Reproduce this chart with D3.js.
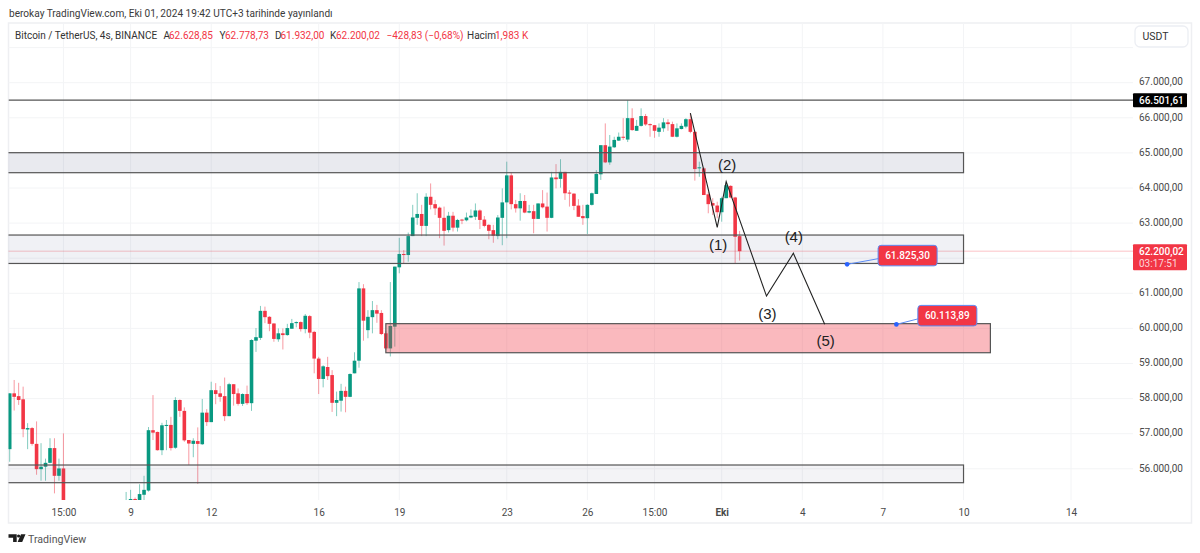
<!DOCTYPE html>
<html>
<head>
<meta charset="utf-8">
<script src="https://cdn.jsdelivr.net/npm/d3@7/dist/d3.min.js"></script>
<style>
  html, body { margin: 0; padding: 0; background: #fff; overflow: hidden; }
  svg { display: block; font-family: Roboto, sans-serif; }
</style>
</head>
<body>
<svg id="chart" width="1200" height="553"></svg>
<script>
// bars that run below the visible pane (13-25) could not be read, they stay null
const opens = [56560,58150,58070,57980,57120,57160,56710,55990,56060,56170,56590,55800,56010,null,null,null,null,null,null,null,null,null,null,null,null,null,
  54800,54900,55140,54950,55260,55380,57100,57050,56530,57220,57250,56600,57960,57650,56820,56710,56790,56700,57600,57330,58240,58150,58070,57500,58410,58150,57850,58130,57870,59650,59730,60500,60330,60140,59690,59860,59810,59990,60150,60180,59980,60350,59900,59140,58560,58900,58670,57880,57940,58220,58050,58720,59080,61140,59950,60320,60520,60440,59860,59430,60050,61740,62120,62090,62630,63150,63260,62920,
  63750,63540,63440,63150,62800,63210,62870,63100,63080,63160,63180,63360,63100,62950,62800,62630,63150,63590,64360,63540,63420,63630,63300,63340,63120,63560,63470,63150,64300,64260,64460,63870,63840,63500,63200,63140,63520,63830,64390,65220,64730,65160,65350,65460,65380,65990,65630,65770,66050,65820,65790,65600,65700,65870,65820,65460,65680,65750,65960,65600,64560,64560,63820,63570,63500,63310,63710,64060,63730,62628.85];
const highs = [58150,58530,58450,58340,57300,57190,57350,56730,56290,56870,56870,56290,57010,null,null,null,null,null,null,null,null,null,null,null,null,null,
  55340,55400,55180,55560,55800,57190,58100,57060,57310,57390,57480,58040,57980,57750,56820,56870,57180,57990,57700,58480,58440,58360,58600,58450,58410,58290,58150,58370,59690,60010,60640,60620,60350,60150,60000,60000,60130,60270,60200,60200,60410,60380,59930,59190,58950,59190,58810,58200,58420,58340,58720,59320,61320,61260,60520,60780,60670,60520,59930,61320,61760,62580,62230,62730,63520,63850,63520,63850,
  64130,63660,63470,63470,63320,63320,63120,63120,63300,63390,63560,63390,63200,62970,62950,63230,63990,64750,64440,63660,63850,63800,63520,63520,63560,63940,63870,64460,64680,64820,64460,63940,63850,63680,63520,63540,63870,64510,65220,65840,65510,65460,65580,65990,66500,66270,65940,66270,66110,65840,65790,65840,65990,65960,65890,65840,65840,65990,66130,65630,64750,64590,63890,63710,63610,63750,64180,64080,63750,62778.73];
const lows = [56200,57660,57820,56900,56560,56660,55830,55660,55660,56160,55300,55660,54500,null,null,null,null,null,null,null,null,null,null,null,null,null,
  54700,54800,54900,54900,54990,55350,56820,56520,56390,56530,56520,56570,57480,56770,56110,56330,55570,56680,57220,57330,57840,57910,57360,57500,57800,57800,57790,57820,57650,59330,59670,60150,59920,59620,59620,59400,59790,59990,60030,59910,59860,59720,58720,58130,58320,58530,57620,57500,57630,57610,58040,58720,58880,59650,59720,59860,60160,59810,59390,59200,59480,61570,61840,61900,62630,62950,62630,62630,
  63390,63230,62570,62360,62730,62760,62760,62970,63050,63140,63090,62830,62880,62540,62440,62540,62370,62570,63390,63300,63070,63280,63280,62710,63120,63420,62760,63140,63990,64010,63660,63470,63370,63180,62950,62690,63500,63830,64230,64710,64660,65140,65340,65370,65310,65630,65630,65750,65770,65460,65430,65460,65600,65630,65450,65440,65670,65700,65560,64210,64320,63800,63280,63230,63140,63040,63710,63710,61850,61932];
const closes = [58150,58050,57960,57130,57160,56710,55990,56060,56170,56590,55800,56010,54800,null,null,null,null,null,null,null,null,null,null,null,null,null,
  55000,55140,54950,55280,55400,57100,57030,56530,57240,57250,56590,57960,57650,56810,56720,56800,56710,57600,57330,58240,58130,58050,57500,58410,58130,57850,58130,57870,59670,59750,60500,60320,60130,59700,59860,59810,60010,60150,60180,59980,60360,59880,59140,58560,58920,58640,57880,57960,58220,58050,58700,59080,61140,60220,60330,60520,60420,59840,59430,60070,61760,62120,62090,62630,63160,63260,62920,63750,
  63520,63420,63150,62780,63210,62870,63090,63090,63160,63210,63360,63090,62920,62780,62640,63160,63590,64360,63540,63420,63630,63300,63340,63120,63560,63450,63150,64300,64250,64460,63850,63840,63490,63180,63140,63520,63850,64400,65220,64730,65180,65370,65460,65440,65990,65650,65770,66050,65810,65790,65630,65720,65870,65820,65460,65700,65770,65960,65600,64540,64590,63800,63540,63500,63310,63710,64080,63730,62610,62200.02];

// time axis: bar index of each tick and its label
const tickBars = [12, 27, 45, 69, 87, 111, 129, 144, 159, 177, 195, 213, 237];
const tickLabels = ['15:00', '9', '12', '16', '19', '23', '26', '15:00', 'Eki', '4', '7', '10', '14'];
const boldTicks = ['Eki'];
const priceTicks = [67000, 66000, 65000, 64000, 63000, 62000, 61000, 60000, 59000, 58000, 57000, 56000];
const gridOnlyPrices = [68000];

// drawn zones: bar start, bar end, top price, bottom price
const zoneStarts = [-10, -10, 84, -10];
const zoneEnds = [213, 213, 219, 213];
const zoneTops = [65006, 62660, 60135, 56108];
const zoneBottoms = [64436, 61850, 59307, 55604];
const zoneFills = ['rgba(108,115,148,0.15)', 'rgba(105,115,155,0.1)', 'rgba(242,54,69,0.35)', 'rgba(100,100,140,0.08)'];

const waveBars = [152, 158, 160, 169, 175, 182];
const wavePrices = [66130, 62880, 64180, 60920, 62140, 60117];
const waveLabels = ['(1)', '(2)', '(3)', '(4)', '(5)'];
const waveLabelBars = [158.2, 160.2, 169.2, 175.1, 182.2];
const waveLabelPrices = [62340, 64630, 60370, 62575, 59600];

const noteBars = [187, 198];
const notePrices = [61825.3, 60113.89];
const noteTexts = ['61.825,30', '60.113,89'];
const resistance = 66501.61;
const lastPrice = 62200.02;

const legendParts = [
  ['Bitcoin / TetherUS, 4s, BINANCE', 15, '#333'],
  ['A', 163.5, '#333'], ['62.628,85', 169, '#f23645'],
  ['Y', 219.5, '#333'], ['62.778,73', 225, '#f23645'],
  ['D', 275, '#333'], ['61.932,00', 280.5, '#f23645'],
  ['K', 330, '#333'], ['62.200,02', 336, '#f23645'],
  ['−428,83 (−0,68%)', 386.5, '#f23645'],
  ['Hacim', 467, '#333'], ['1,983 K', 495, '#f23645']
];

const green = '#089981', red = '#f23645';
const paneLeft = 8.5, paneRight = 1133, paneTop = 23, paneBottom = 500;

const x = d3.scaleLinear().domain([0, 237]).range([9.7, 1071]);
const y = d3.scaleLinear().domain([56000, 67000]).range([468.8, 82.7]);

const svg = d3.select('#chart');

svg.append('defs').append('clipPath').attr('id', 'pane')
  .append('rect')
  .attr('x', paneLeft).attr('y', paneTop)
  .attr('width', paneRight - paneLeft).attr('height', paneBottom - paneTop);

// publishing line above the frame
svg.append('text')
  .attr('x', 9).attr('y', 17)
  .attr('font-size', 10.1).attr('fill', '#3a3a3a')
  .text('berokay TradingView.com, Eki 01, 2024 19:42 UTC+3 tarihinde yayınlandı');

// outer frame
svg.append('rect')
  .attr('x', 8.5).attr('y', 23)
  .attr('width', 1183).attr('height', 500)
  .attr('fill', 'none').attr('stroke', '#eeeff2').attr('stroke-width', 1.5);

// grid
svg.append('g').selectAll('line')
  .data(tickBars)
  .join('line')
  .attr('x1', (d) => x(d)).attr('x2', (d) => x(d))
  .attr('y1', paneTop).attr('y2', paneBottom)
  .attr('stroke', '#f3f4f6');
svg.append('g').selectAll('line')
  .data(priceTicks.concat(gridOnlyPrices))
  .join('line')
  .attr('x1', paneLeft).attr('x2', paneRight)
  .attr('y1', (d) => y(d)).attr('y2', (d) => y(d))
  .attr('stroke', '#f3f4f6');

const pane = svg.append('g').attr('clip-path', 'url(#pane)');

// candles
const bars = d3.range(opens.length).filter((i) => opens[i] !== null);
const barColor = (i) => closes[i] >= opens[i] ? green : red;

pane.append('g').selectAll('line')
  .data(bars)
  .join('line')
  .attr('x1', (i) => x(i)).attr('x2', (i) => x(i))
  .attr('y1', (i) => y(highs[i])).attr('y2', (i) => y(lows[i]))
  .attr('stroke', barColor)
  .attr('stroke-opacity', 0.5)
  .attr('stroke-width', 1);

pane.append('g').selectAll('rect')
  .data(bars)
  .join('rect')
  .attr('x', (i) => x(i) - 1.8)
  .attr('width', 3.6)
  .attr('y', (i) => y(Math.max(opens[i], closes[i])))
  .attr('height', (i) => Math.max(1, Math.abs(y(opens[i]) - y(closes[i]))))
  .attr('fill', barColor);

// last price dotted line
pane.append('line')
  .attr('x1', paneLeft).attr('x2', paneRight)
  .attr('y1', y(lastPrice)).attr('y2', y(lastPrice))
  .attr('stroke', red).attr('stroke-opacity', 0.6)
  .attr('stroke-dasharray', '1 1');

// zones
pane.append('g').selectAll('rect')
  .data(d3.range(zoneStarts.length))
  .join('rect')
  .attr('x', (i) => x(zoneStarts[i]))
  .attr('width', (i) => x(zoneEnds[i]) - x(zoneStarts[i]))
  .attr('y', (i) => y(zoneTops[i]))
  .attr('height', (i) => y(zoneBottoms[i]) - y(zoneTops[i]))
  .attr('fill', (i) => zoneFills[i])
  .attr('stroke', '#555')
  .attr('stroke-width', 1.2);

pane.append('line')
  .attr('x1', paneLeft).attr('x2', paneRight)
  .attr('y1', y(resistance)).attr('y2', y(resistance))
  .attr('stroke', '#555').attr('stroke-width', 1.2);

// elliott wave path
const waveLine = d3.line()
  .x((d) => x(d[0]))
  .y((d) => y(d[1]));
pane.append('path')
  .datum(d3.zip(waveBars, wavePrices))
  .attr('d', waveLine)
  .attr('fill', 'none')
  .attr('stroke', '#222')
  .attr('stroke-width', 1.1);

pane.append('g').selectAll('text')
  .data(waveLabels)
  .join('text')
  .attr('x', (d, i) => x(waveLabelBars[i]))
  .attr('y', (d, i) => y(waveLabelPrices[i]))
  .attr('text-anchor', 'middle')
  .attr('dominant-baseline', 'middle')
  .attr('font-family', '"Liberation Sans", sans-serif')
  .attr('font-size', 15)
  .attr('fill', '#222')
  .text((d) => d);

// price notes with their anchors
const noteW = 59, noteH = 20.5, noteDx = [31, 21.5], noteDy = [-19, -19];
const notes = pane.append('g').selectAll('g')
  .data(d3.range(noteTexts.length))
  .join('g');
notes.append('line')
  .attr('x1', (i) => x(noteBars[i])).attr('y1', (i) => y(notePrices[i]))
  .attr('x2', (i) => x(noteBars[i]) + noteDx[i] + 2).attr('y2', (i) => y(notePrices[i]) - 6)
  .attr('stroke', '#5b8cf5');
notes.append('circle')
  .attr('cx', (i) => x(noteBars[i])).attr('cy', (i) => y(notePrices[i]))
  .attr('r', 2.3)
  .attr('fill', '#2962ff');
notes.append('rect')
  .attr('x', (i) => x(noteBars[i]) + noteDx[i])
  .attr('y', (i) => y(notePrices[i]) + noteDy[i])
  .attr('width', noteW).attr('height', noteH)
  .attr('rx', 3)
  .attr('fill', red)
  .attr('stroke', '#5b8cf5');
notes.append('text')
  .attr('x', (i) => x(noteBars[i]) + noteDx[i] + noteW / 2)
  .attr('y', (i) => y(notePrices[i]) + noteDy[i] + noteH / 2)
  .attr('text-anchor', 'middle')
  .attr('dominant-baseline', 'central')
  .attr('font-size', 10)
  .attr('font-weight', 500)
  .attr('fill', '#fff')
  .text((i) => noteTexts[i]);

// legend row
svg.append('g').selectAll('text')
  .data(legendParts)
  .join('text')
  .attr('x', (d) => d[1])
  .attr('y', 39)
  .attr('font-size', 10)
  .attr('fill', (d) => d[2])
  .text((d) => d[0]);

// axes
const priceFormat = (v) => d3.format(',.2f')(v).replace(/,/g, '#').replace('.', ',').replace(/#/g, '.');

const yAxis = d3.axisRight(y)
  .tickValues(priceTicks.filter((d) => d !== 62000))
  .tickSize(0)
  .tickPadding(0)
  .tickFormat(priceFormat);
const yAxisG = svg.append('g')
  .attr('transform', 'translate(1139,-1)')
  .call(yAxis);
yAxisG.select('.domain').remove();
yAxisG.selectAll('text').attr('font-size', 10).attr('font-family', 'Roboto, sans-serif').attr('fill', '#4a4a4a');

const xAxis = d3.axisBottom(x)
  .tickValues(tickBars)
  .tickSize(0)
  .tickPadding(0)
  .tickFormat((d, i) => tickLabels[i]);
const xAxisG = svg.append('g')
  .attr('transform', 'translate(0,509)')
  .call(xAxis);
xAxisG.select('.domain').remove();
xAxisG.selectAll('text')
  .attr('font-size', 10)
  .attr('font-family', 'Roboto, sans-serif')
  .attr('font-weight', (d, i) => boldTicks.includes(tickLabels[i]) ? 700 : 400)
  .attr('fill', '#4a4a4a');

// price tags on the axis
const tagX = 1133, tagW = 54;
svg.append('rect')
  .attr('x', tagX).attr('y', y(resistance) - 7)
  .attr('width', tagW).attr('height', 14)
  .attr('rx', 1).attr('fill', '#000');
svg.append('text')
  .attr('x', tagX + 6).attr('y', y(resistance))
  .attr('dominant-baseline', 'central')
  .attr('font-size', 10).attr('font-weight', 500).attr('fill', '#fff')
  .text('66.501,61');

svg.append('rect')
  .attr('x', tagX).attr('y', y(lastPrice) - 7)
  .attr('width', tagW).attr('height', 26)
  .attr('rx', 1).attr('fill', red);
svg.append('text')
  .attr('x', tagX + 6).attr('y', y(lastPrice))
  .attr('dominant-baseline', 'central')
  .attr('font-size', 10).attr('font-weight', 500).attr('fill', '#fff')
  .text('62.200,02');
svg.append('text')
  .attr('x', tagX + 6).attr('y', y(lastPrice) + 12)
  .attr('dominant-baseline', 'central')
  .attr('font-size', 10).attr('fill', '#fff').attr('fill-opacity', 0.8)
  .text('03:17:51');

// currency button
svg.append('rect')
  .attr('x', 1135).attr('y', 26)
  .attr('width', 53).attr('height', 21)
  .attr('rx', 5)
  .attr('fill', '#fff').attr('stroke', '#eceef3').attr('stroke-width', 1.3);
svg.append('text')
  .attr('x', 1142.5).attr('y', 36.5)
  .attr('dominant-baseline', 'central')
  .attr('font-size', 10.5).attr('fill', '#333')
  .text('USDT');

// footer logo
svg.append('path')
  .attr('d', 'M8.5 534.3h8.2v7.7h-3.6v-4.2h-4.6zM21 534.3h4.5l-3.3 7.7h-4.6z')
  .attr('fill', '#1f1f1f');
svg.append('circle').attr('cx', 18.6).attr('cy', 536).attr('r', 1.6).attr('fill', '#1f1f1f');
svg.append('text')
  .attr('x', 28).attr('y', 542.5)
  .attr('font-size', 10.6).attr('fill', '#555')
  .text('TradingView');
</script>
</body>
</html>
